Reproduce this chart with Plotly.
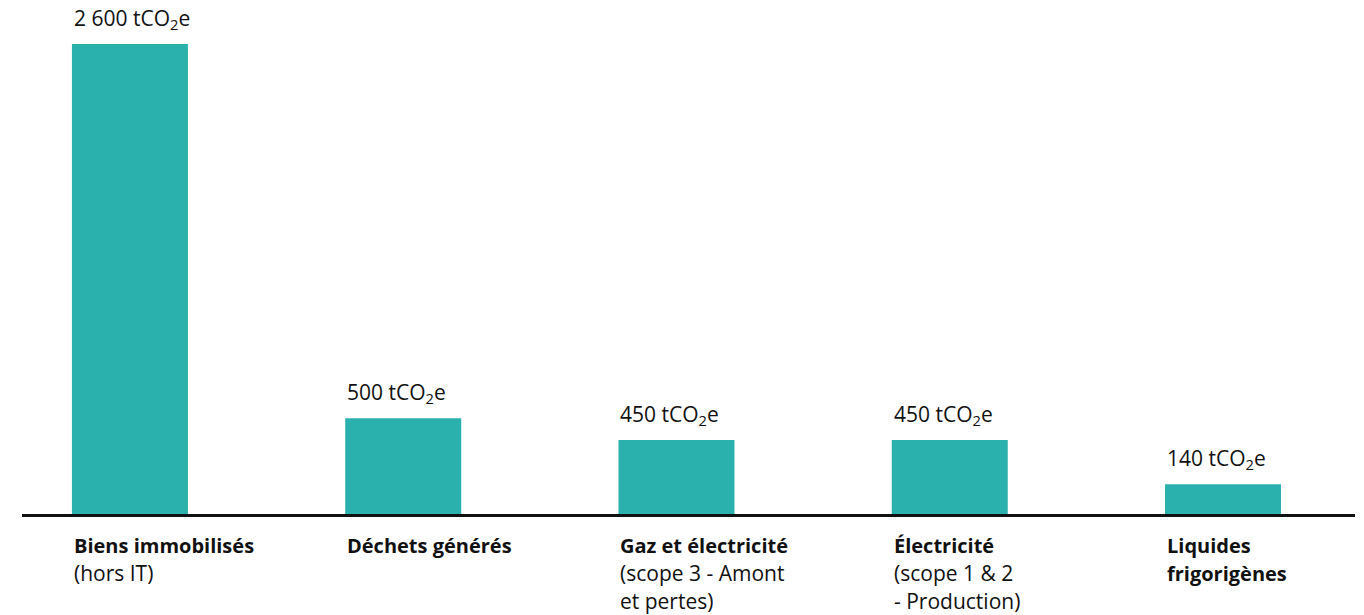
import plotly.graph_objects as go

categories_title = [["Biens immobilisés"], ["Déchets générés"], ["Gaz et électricité"], ["Électricité"], ["Liquides", "frigorigènes"]]
categories_sub = [["(hors IT)"], [], ["(scope 3 - Amont", "et pertes)"], ["(scope 1 & 2", "- Production)"], []]
values = [2600, 530, 410, 410, 165]
value_labels = ["2 600", "500", "450", "450", "140"]
unit = "tCO<sub>2</sub>e"

BAR_COLOR = "#2bb1ad"
TEXT = "#111111"
FONT = "Open Sans"
BAR_W = 0.4245

x = list(range(len(values)))
fig = go.Figure(go.Bar(x=x, y=values, width=BAR_W, marker=dict(color=BAR_COLOR, line=dict(width=0)),
                       hoverinfo="skip"))

ann = []
for i, v in enumerate(values):
    left = i - BAR_W / 2
    ann.append(dict(x=left, y=v, xref="x", yref="y", xanchor="left", yanchor="middle", yshift=25,
                    text=f"{value_labels[i]} {unit}", showarrow=False,
                    font=dict(family=FONT, size=21, color=TEXT)))
    lines = [(t, True) for t in categories_title[i]] + [(t, False) for t in categories_sub[i]]
    for j, (t, bold) in enumerate(lines):
        ann.append(dict(x=left, y=0, xref="x", yref="y", xanchor="left", yanchor="middle",
                        yshift=-31 - 28 * j, text=f"<b>{t}</b>" if bold else t, showarrow=False,
                        font=dict(family=FONT, size=20 if bold else 21, color=TEXT)))

fig.update_layout(
    width=1356, height=607,
    margin=dict(l=14, r=9, t=0, b=101),
    paper_bgcolor="white", plot_bgcolor="white",
    showlegend=False,
    annotations=ann,
    xaxis=dict(range=[-0.395, 4.483], showticklabels=False, ticks="", showgrid=False, zeroline=False,
               showline=True, linecolor="#111111", linewidth=2.5),
    yaxis=dict(range=[0, 2600 * 506 / 470], visible=False, showgrid=False, zeroline=False),
)
fig.write_html("out.html")
